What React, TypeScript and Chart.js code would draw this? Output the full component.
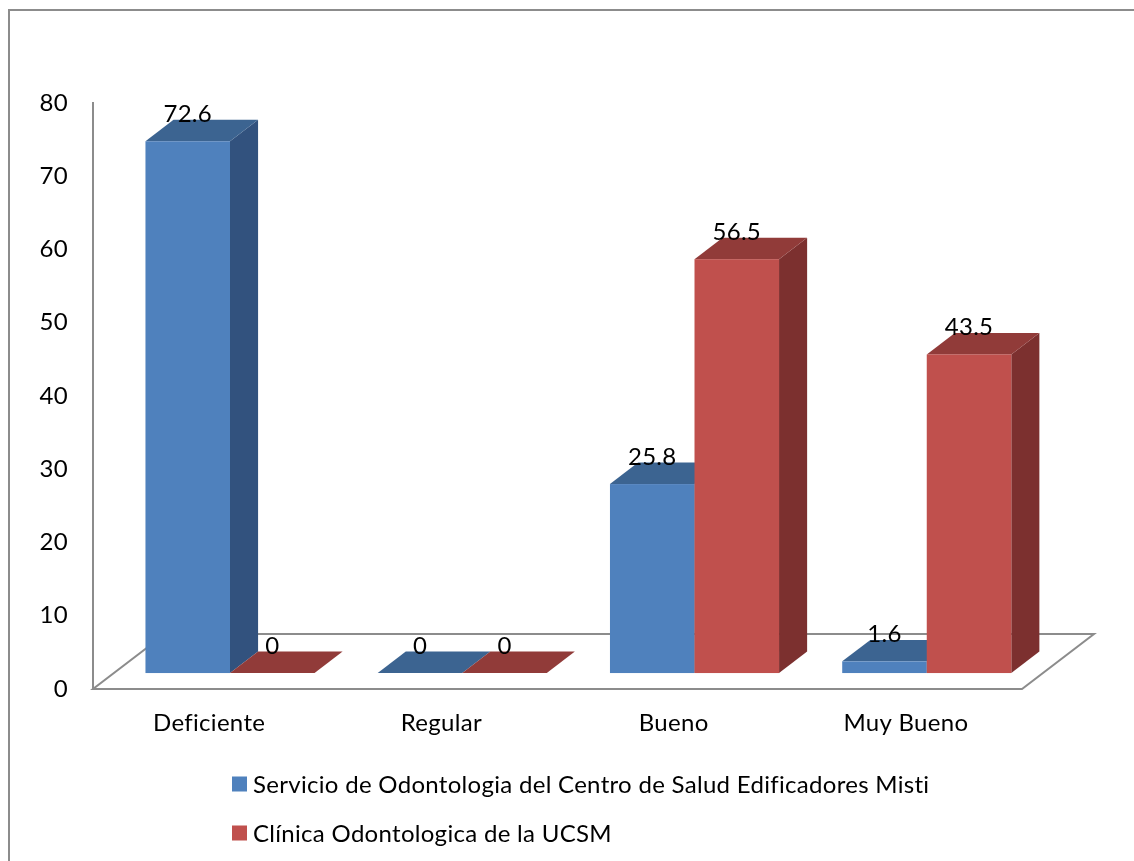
import React, { useEffect, useRef } from "react";
import { Chart, registerables } from "chart.js";

Chart.register(...registerables);

const categories = ["Deficiente", "Regular", "Bueno", "Muy Bueno"];
const seriesNames = [
  "Servicio de Odontologia del Centro de Salud Edificadores Misti",
  "Clínica Odontologica de la UCSM",
];
const edificadoresMisti = [72.6, 0, 25.8, 1.6];
const clinicaUcsm = [0, 0, 56.5, 43.5];
const yMin = 0;
const yMax = 80;
const yStep = 10;

const FONT_FAMILY = "Lato, 'Open Sans', sans-serif";
const FONT_SIZE = 24;
const LETTER_SPACING = "0.3px";
const GRAY = "#8c8c8c";

const faceColors = [
  { front: "#4F81BD", top: "#3C6491", side: "#32527E" },
  { front: "#C0504D", top: "#913B39", side: "#7C302F" },
];

// oblique depth of the floor (px)
const DEPTH_X = 72;
const DEPTH_Y = -55;
const FRONT_GAP = 0.29;
const BAR_DEPTH = 0.39;

const bar3dPlugin = {
  id: "bar3d",
  beforeDraw(chart: any) {
    const { ctx, width, height } = chart;
    ctx.save();
    ctx.fillStyle = "#ffffff";
    ctx.fillRect(0, 0, width, height);
    ctx.strokeStyle = GRAY;
    ctx.lineWidth = 2;
    ctx.strokeRect(9, 10, width + 40, height + 40);
    ctx.restore();
    // slight tracking: also disables the fi ligature like the original
    try {
      (ctx as any).letterSpacing = LETTER_SPACING;
    } catch (e) {
      /* ignore */
    }
  },
  beforeDatasetsDraw(chart: any) {
    const { ctx, chartArea } = chart;
    const { left, right, bottom } = chartArea;
    ctx.save();
    // floor
    ctx.strokeStyle = GRAY;
    ctx.lineWidth = 2;
    ctx.beginPath();
    ctx.moveTo(left, bottom);
    ctx.lineTo(right, bottom);
    ctx.lineTo(right + DEPTH_X, bottom + DEPTH_Y);
    ctx.lineTo(left + DEPTH_X, bottom + DEPTH_Y);
    ctx.closePath();
    ctx.stroke();

    const ox = DEPTH_X * FRONT_GAP;
    const oy = DEPTH_Y * FRONT_GAP;
    const dx = DEPTH_X * BAR_DEPTH;
    const dy = DEPTH_Y * BAR_DEPTH;
    const labels: { x: number; y: number; text: string }[] = [];

    const nCat = chart.data.labels.length;
    for (let i = 0; i < nCat; i++) {
      chart.data.datasets.forEach((ds: any, j: number) => {
        const meta = chart.getDatasetMeta(j);
        const el = meta.data[i];
        if (!el) return;
        const p = el.getProps(["x", "y", "base", "width"], true);
        const l = p.x - p.width / 2 + ox;
        const r = p.x + p.width / 2 + ox;
        const t = p.y + oy;
        const b = p.base + oy;
        const c = faceColors[j];
        // side
        ctx.fillStyle = c.side;
        ctx.beginPath();
        ctx.moveTo(r, t);
        ctx.lineTo(r + dx, t + dy);
        ctx.lineTo(r + dx, b + dy);
        ctx.lineTo(r, b);
        ctx.closePath();
        ctx.fill();
        // top
        ctx.fillStyle = c.top;
        ctx.beginPath();
        ctx.moveTo(l, t);
        ctx.lineTo(r, t);
        ctx.lineTo(r + dx, t + dy);
        ctx.lineTo(l + dx, t + dy);
        ctx.closePath();
        ctx.fill();
        // front
        if (b - t > 0.3) {
          ctx.fillStyle = c.front;
          ctx.fillRect(l, t, r - l, b - t);
        }
        labels.push({ x: (l + r) / 2, y: t - 27, text: String(ds.data[i]) });
      });
    }

    ctx.fillStyle = "#000000";
    ctx.font = `${FONT_SIZE}px ${FONT_FAMILY}`;
    ctx.textAlign = "center";
    ctx.textBaseline = "middle";
    labels.forEach((lb) => ctx.fillText(lb.text, lb.x, lb.y));
    ctx.restore();
    return false;
  },
  afterDraw(chart: any) {
    const { ctx } = chart;
    ctx.save();
    ctx.font = `${FONT_SIZE}px ${FONT_FAMILY}`;
    ctx.textAlign = "left";
    ctx.textBaseline = "middle";
    const rows = [784, 833];
    seriesNames.forEach((name, j) => {
      const cy = rows[j];
      ctx.fillStyle = faceColors[j].front;
      ctx.fillRect(232, cy - 7.5, 15, 15);
      ctx.fillStyle = "#000000";
      ctx.fillText(name, 253, cy + 1);
    });
    ctx.restore();
  },
};

export default function App() {
  const canvasRef = useRef<HTMLCanvasElement | null>(null);

  useEffect(() => {
    if (!canvasRef.current) return;
    const chart = new Chart(canvasRef.current, {
      type: "bar",
      data: {
        labels: categories,
        datasets: [
          {
            label: seriesNames[0],
            data: edificadoresMisti,
            backgroundColor: faceColors[0].front,
            categoryPercentage: 0.728,
            barPercentage: 1,
          },
          {
            label: seriesNames[1],
            data: clinicaUcsm,
            backgroundColor: faceColors[1].front,
            categoryPercentage: 0.728,
            barPercentage: 1,
          },
        ],
      },
      options: {
        animation: false,
        responsive: true,
        maintainAspectRatio: false,
        layout: { padding: { top: 103, right: 112, bottom: 0, left: 0 } },
        plugins: {
          legend: { display: false },
          tooltip: { enabled: false },
        },
        scales: {
          x: {
            type: "category",
            grid: { display: false, drawTicks: false },
            border: { display: false },
            ticks: {
              color: "#000000",
              font: { family: FONT_FAMILY, size: FONT_SIZE },
              padding: 20,
              maxRotation: 0,
            },
            afterFit: (s: any) => {
              s.height = 172;
            },
          },
          y: {
            min: yMin,
            max: yMax,
            grid: { display: false, drawTicks: false },
            border: { display: true, color: GRAY, width: 2 },
            ticks: {
              stepSize: yStep,
              color: "#000000",
              font: { family: FONT_FAMILY, size: FONT_SIZE },
              padding: 25,
            },
            afterFit: (s: any) => {
              s.width = 93;
            },
          },
        },
      },
      plugins: [bar3dPlugin],
    });
    return () => chart.destroy();
  }, []);

  return (
    <div style={{ position: "fixed", left: 0, top: 0, width: 1134, height: 861 }}>
      <canvas ref={canvasRef} />
    </div>
  );
}
